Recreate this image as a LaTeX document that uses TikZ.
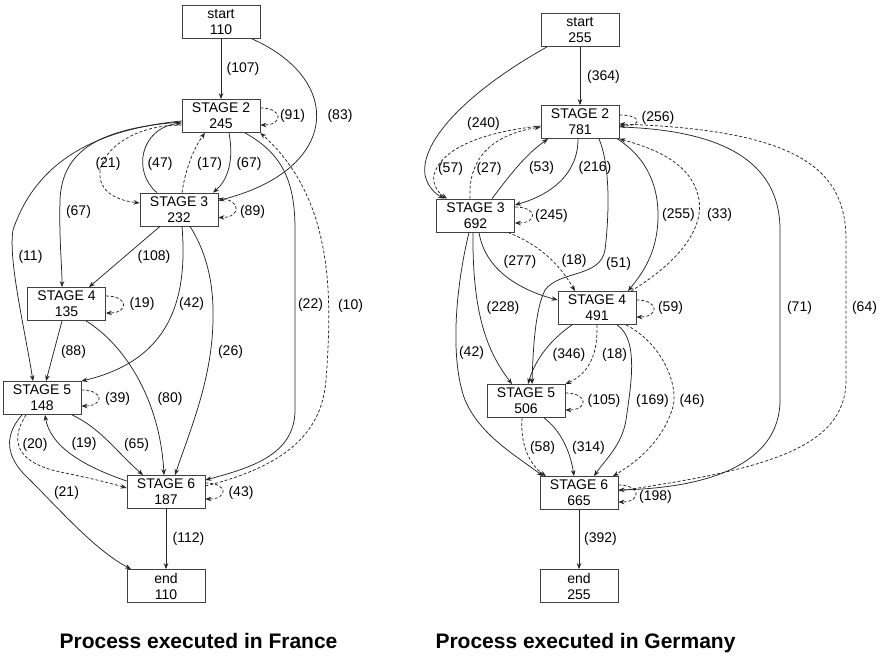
\documentclass[tikz,border=0pt]{standalone}
\usepackage{fontspec}
\setmainfont{Liberation Sans}
\usetikzlibrary{arrows.meta}
\begin{document}
\begin{tikzpicture}[x=1pt,y=-1pt,
  stage/.style={draw=black!75,line width=0.8pt,minimum width=78pt,minimum height=33pt,
    inner sep=0pt,align=center,font=\fontsize{14}{16}\selectfont},
  lbl/.style={inner sep=0pt,font=\fontsize{14}{16}\selectfont},
  flow/.style={draw=black!85,line width=0.75pt,-{Stealth[length=6pt,width=4.6pt]}},
  dflow/.style={flow,dash pattern=on 3pt off 2pt},
  selfloop/.style={dflow,out=0,in=0,distance=23pt},
  title/.style={font=\fontsize{21}{25}\selectfont\bfseries,anchor=base,inner sep=0pt}]
\useasboundingbox (0,0) rectangle (882,656);

% ---------------- France ----------------
\node[stage] (ls) at (221,22)    {start\\110};
\node[stage] (l2) at (221,116)   {STAGE 2\\245};
\node[stage] (l3) at (179,209.5) {STAGE 3\\232};
\node[stage] (l4) at (66.5,304)  {STAGE 4\\135};
\node[stage] (l5) at (42,398)    {STAGE 5\\148};
\node[stage] (l6) at (166,492)   {STAGE 6\\187};
\node[stage] (le) at (166,586)   {end\\110};

\draw[flow] (ls) -- (l2);
\draw[flow] ([xshift=31pt]ls.south) .. controls (345,80) and (340,170) .. ([yshift=9pt]l3.east);
\draw[selfloop] ([yshift=8pt]l2.east) to ([yshift=-9pt]l2.east);
\draw[flow] ([xshift=8pt]l2.south) .. controls (234,160) and (228,180) .. ([xshift=34pt]l3.north);
\draw[flow] ([xshift=-22pt]l3.north) .. controls (132,172) and (140,128) .. ([yshift=-7pt]l2.west);
\draw[dflow] ([xshift=3pt]l3.north) .. controls (186,165) and (196,145) .. ([xshift=-16pt]l2.south);
\draw[dflow] ([yshift=-9pt]l2.west) .. controls (100,125) and (70,195) .. ([yshift=6.5pt]l3.west);
\draw[selfloop] ([yshift=11pt]l3.east) to ([yshift=-8pt]l3.east);
\draw[flow] ([yshift=-6pt]l2.west) .. controls (100,128) and (62,150) .. (60,200)
  .. controls (59,240) and (62,265) .. ([xshift=-4.5pt]l4.north);
\draw[flow] ([yshift=-5pt]l2.west) .. controls (90,130) and (35,165) .. (13,230)
  .. controls (8,260) and (25,330) .. ([xshift=-9pt]l5.north);
\draw[flow] ([xshift=-19pt]l3.south) -- ([xshift=22.5pt]l4.north);
\draw[flow] ([xshift=3pt]l3.south) .. controls (188,300) and (170,360) .. (l5.north east);
\draw[flow] ([xshift=11pt]l3.south) .. controls (205,250) and (214,280) .. (213,320)
  .. controls (212,380) and (190,430) .. ([xshift=9pt]l6.north);
\draw[flow] ([xshift=24pt]l2.south) .. controls (285,155) and (295,185) .. (295,230)
  -- (295,410) .. controls (295,455) and (250,468) .. ([yshift=12pt]l6.east);
\draw[dflow] ([yshift=6pt]l6.east) .. controls (290,465) and (322,430) .. (326,380)
  .. controls (332,300) and (335,200) .. (l2.south east);
\draw[selfloop] ([yshift=8pt]l4.east) to ([yshift=-9pt]l4.east);
\draw[flow] ([xshift=-4.5pt]l4.south) -- ([xshift=4pt]l5.north);
\draw[flow] ([xshift=19.5pt]l4.south) .. controls (125,345) and (160,400) .. ([xshift=-2pt]l6.north);
\draw[selfloop] ([yshift=8pt]l5.east) to ([yshift=-8pt]l5.east);
\draw[flow] ([xshift=30pt]l5.south) .. controls (100,428) and (115,450) .. ([xshift=-23pt]l6.north);
\draw[flow] ([yshift=11pt]l6.west) .. controls (80,465) and (50,445) .. ([xshift=3pt]l5.south);
\draw[dflow] ([xshift=-16pt]l5.south) .. controls (10,440) and (15,462) .. (60,472)
  .. controls (90,478) and (110,483) .. ([yshift=4pt]l6.west);
\draw[flow] ([xshift=-20pt]l5.south) .. controls (0,440) and (10,462) .. (30,480)
  .. controls (60,510) and (95,550) .. ([xshift=-35pt]le.north);
\draw[selfloop] ([yshift=9pt]l6.east) to ([yshift=-7pt]l6.east);
\draw[flow] (l6) -- (le);

\node[lbl] (fa) at (243,69)    {(107)};
\node[lbl] (fb) at (340,116)   {(83)};
\node[lbl] (fc) at (292.5,116) {(91)};
\node[lbl] (fd) at (249,164)   {(67)};
\node[lbl] (fe) at (160,164)   {(47)};
\node[lbl] (ff) at (209.5,164) {(17)};
\node[lbl] (fg) at (108,164)   {(21)};
\node[lbl] (fh) at (252.5,212) {(89)};
\node[lbl] (fi) at (78.5,212)  {(67)};
\node[lbl] (fj) at (30.5,257)  {(11)};
\node[lbl] (fk) at (154,257)   {(108)};
\node[lbl] (fl) at (191.5,304) {(42)};
\node[lbl] (fm) at (230.5,352) {(26)};
\node[lbl] (fn) at (310.5,305) {(22)};
\node[lbl] (fo) at (350.5,306) {(10)};
\node[lbl] (fp) at (142,304)   {(19)};
\node[lbl] (fq) at (73.5,352)  {(88)};
\node[lbl] (fr) at (170,399)   {(80)};
\node[lbl] (fs) at (117.5,399) {(39)};
\node[lbl] (ft) at (136.5,445) {(65)};
\node[lbl] (fu) at (84,444)    {(19)};
\node[lbl] (fv) at (35,445)    {(20)};
\node[lbl] (fw) at (66.5,493)  {(21)};
\node[lbl] (fx) at (241,493)   {(43)};
\node[lbl] (fy) at (188.5,539) {(112)};

\node[title] (tf) at (198.5,648) {Process executed in France};

% ---------------- Germany ----------------
\node[stage] (rs) at (580,30)    {start\\255};
\node[stage] (r2) at (580,122)   {STAGE 2\\781};
\node[stage] (r3) at (475.5,215.5) {STAGE 3\\692};
\node[stage] (r4) at (597,308)   {STAGE 4\\491};
\node[stage] (r5) at (526,401)   {STAGE 5\\506};
\node[stage] (r6) at (579,493)   {STAGE 6\\665};
\node[stage] (re) at (579,586)   {end\\255};

\draw[flow] (rs) -- (r2);
\draw[flow] ([xshift=-33pt]rs.south) .. controls (470,90) and (420,140) .. (425,175)
  .. controls (428,188) and (436,194) .. ([xshift=-31.5pt]r3.north);
\draw[selfloop] ([yshift=7pt]r2.east) to ([yshift=-4pt]r2.east);
\draw[dflow] ([yshift=-4pt]r2.west) .. controls (480,132) and (440,150) .. (434,175)
  .. controls (432,186) and (440,194) .. ([xshift=-28.5pt]r3.north);
\draw[dflow] ([xshift=-5.5pt]r3.north) .. controls (468,160) and (490,135) .. ([yshift=-5pt]r2.west);
\draw[flow] ([xshift=16.5pt]r3.north) .. controls (510,175) and (525,155) .. ([xshift=-32pt]r2.south);
\draw[flow] ([xshift=-2pt]r2.south) .. controls (578,175) and (550,195) .. ([yshift=10.5pt]r3.east);
\draw[flow] ([xshift=19pt]r2.south) .. controls (612,170) and (608,225) .. (605,250)
  .. controls (600,278) and (560,270) .. (545,290)
  .. controls (535,310) and (533,350) .. ([xshift=6pt]r5.north);
\draw[flow] ([xshift=-2pt]r2.south east) .. controls (650,160) and (658,190) .. (658,215)
  .. controls (658,250) and (645,270) .. ([xshift=31pt]r4.north);
\draw[dflow] ([xshift=34pt]r4.north) .. controls (690,255) and (705,220) .. (698,195)
  .. controls (690,165) and (660,150) .. (r2.south east);
\draw[selfloop] ([yshift=8.5pt]r3.east) to ([yshift=-7.5pt]r3.east);
\draw[flow] ([xshift=3.5pt]r3.south) .. controls (485,270) and (520,290) .. ([yshift=8pt]r4.west);
\draw[dflow] ([xshift=32.5pt]r3.south) .. controls (540,245) and (560,265) .. ([xshift=-22pt]r4.north);
\draw[flow] ([xshift=-2.5pt]r3.south) .. controls (472,320) and (490,355) .. ([xshift=-14pt]r5.north);
\draw[flow] ([xshift=-6.5pt]r3.south) .. controls (455,290) and (450,360) .. (465,400)
  .. controls (480,435) and (515,455) .. ([xshift=-36pt]r6.north);
\draw[selfloop] ([yshift=8pt]r4.east) to ([yshift=-9pt]r4.east);
\draw[flow] ([xshift=-25pt]r4.south) .. controls (550,340) and (535,360) .. ([xshift=2pt]r5.north);
\draw[dflow] (r4.south) .. controls (598,360) and (585,375) .. (r5.north east);
\draw[flow] ([xshift=20pt]r4.south) .. controls (640,340) and (630,390) .. (626,420)
  .. controls (622,445) and (605,460) .. ([xshift=15pt]r6.north);
\draw[dflow] ([xshift=29pt]r4.south) .. controls (665,345) and (680,390) .. (672,410)
  .. controls (662,440) and (640,460) .. ([xshift=34pt]r6.north);
\draw[selfloop] ([yshift=8pt]r5.east) to ([yshift=-9pt]r5.east);
\draw[dflow] ([xshift=-4pt]r5.south) .. controls (520,445) and (530,465) .. ([xshift=-33pt]r6.north);
\draw[flow] ([xshift=18pt]r5.south) .. controls (560,430) and (570,450) .. ([xshift=-5pt]r6.north);
\draw[flow] ([yshift=-5pt]r2.east) .. controls (720,130) and (780,160) .. (780,230)
  -- (780,400) .. controls (780,450) and (735,487) .. ([yshift=3pt]r6.east);
\draw[dflow] ([yshift=2pt]r6.east) .. controls (760,470) and (846,450) .. (846,380)
  -- (846,240) .. controls (846,170) and (800,130) .. ([yshift=-2pt]r2.east);
\draw[selfloop] ([yshift=8pt]r6.east) to ([yshift=-9pt]r6.east);
\draw[flow] (r6) -- (re);

\node[lbl] (ga) at (603.5,77)  {(364)};
\node[lbl] (gb) at (483.5,124) {(240)};
\node[lbl] (gc) at (658,118)   {(256)};
\node[lbl] (gd) at (450.5,169) {(57)};
\node[lbl] (ge) at (489,169)   {(27)};
\node[lbl] (gf) at (541.5,168) {(53)};
\node[lbl] (gg) at (595,168)   {(216)};
\node[lbl] (gh) at (618.5,264) {(51)};
\node[lbl] (gi) at (678.5,215) {(255)};
\node[lbl] (gj) at (719.5,215) {(33)};
\node[lbl] (gk) at (551.5,216) {(245)};
\node[lbl] (gl) at (520,262)   {(277)};
\node[lbl] (gm) at (574,261)   {(18)};
\node[lbl] (gn) at (503,308)   {(228)};
\node[lbl] (go) at (471.5,353) {(42)};
\node[lbl] (gp) at (670.5,308) {(59)};
\node[lbl] (gq) at (569,355)   {(346)};
\node[lbl] (gr) at (614.5,355) {(18)};
\node[lbl] (gs) at (652.5,401) {(169)};
\node[lbl] (gt) at (692,401)   {(46)};
\node[lbl] (gu) at (604,401)   {(105)};
\node[lbl] (gv) at (542.5,448) {(58)};
\node[lbl] (gw) at (588.5,448) {(314)};
\node[lbl] (gx) at (799.5,308) {(71)};
\node[lbl] (gy) at (864.5,308) {(64)};
\node[lbl] (gz) at (655.5,497) {(198)};
\node[lbl] (g0) at (600.5,539) {(392)};

\node[title] (tg) at (585.5,648) {Process executed in Germany};
\end{tikzpicture}
\end{document}
